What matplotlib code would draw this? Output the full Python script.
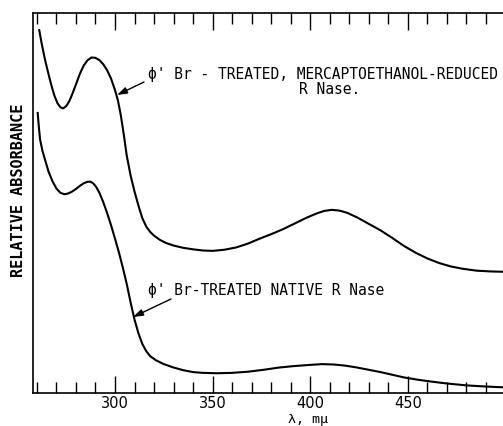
import matplotlib
matplotlib.use("Agg")
import matplotlib.pyplot as plt

# Data (wavelength in m\u03bc, relative absorbance)
reduced_wl = [261.2, 262.5, 264.2, 266.0, 267.6, 269.0, 270.5, 272.0, 273.5, 275.0,
              276.5, 278.0, 280.0, 282.0, 284.0, 286.0, 288.0, 290.0, 292.0, 294.0,
              296.0, 298.0, 300.0, 301.5, 303.0, 304.5, 306.0, 308.0, 310.0, 312.0,
              314.0, 316.0, 318.0, 320.0, 323.0, 326.0, 330.0, 335.0, 340.0, 345.0,
              350.0, 356.0, 362.0, 368.0, 374.0, 380.0, 386.0, 392.0, 398.0, 403.0,
              407.0, 411.0, 415.0, 419.0, 424.0, 430.0, 436.0, 442.0, 448.0, 454.0,
              460.0, 466.0, 472.0, 478.0, 485.0, 492.0, 498.7]
reduced_abs = [0.955, 0.918, 0.876, 0.838, 0.806, 0.782, 0.763, 0.752, 0.749, 0.755,
               0.767, 0.785, 0.812, 0.840, 0.862, 0.876, 0.883, 0.882, 0.876, 0.865,
               0.849, 0.827, 0.797, 0.770, 0.730, 0.680, 0.625, 0.572, 0.530, 0.493,
               0.460, 0.438, 0.424, 0.414, 0.403, 0.395, 0.388, 0.382, 0.378, 0.375,
               0.374, 0.377, 0.383, 0.393, 0.406, 0.418, 0.431, 0.446, 0.461, 0.472,
               0.479, 0.482, 0.480, 0.474, 0.462, 0.445, 0.428, 0.408, 0.387, 0.369,
               0.354, 0.342, 0.333, 0.327, 0.322, 0.320, 0.319]

native_wl = [260.4, 261.0, 261.6, 262.8, 264.2, 266.0, 268.0, 270.0, 272.0, 274.0,
             276.0, 278.0, 280.0, 282.0, 284.0, 286.0, 287.5, 289.0, 290.5, 292.0,
             294.0, 296.0, 298.0, 300.0, 302.0, 304.0, 306.0, 308.0, 310.0, 312.0,
             314.0, 316.0, 318.0, 321.0, 325.0, 330.0, 335.0, 340.0, 345.0, 352.0,
             360.0, 368.0, 376.0, 384.0, 392.0, 400.0, 406.0, 412.0, 418.0, 424.0,
             430.0, 436.0, 442.0, 448.0, 455.0, 462.0, 470.0, 480.0, 490.0, 498.7]
native_abs = [0.737, 0.700, 0.668, 0.638, 0.613, 0.582, 0.557, 0.538, 0.527, 0.523,
              0.525, 0.530, 0.537, 0.545, 0.552, 0.556, 0.556, 0.551, 0.541, 0.527,
              0.502, 0.473, 0.441, 0.406, 0.370, 0.330, 0.287, 0.238, 0.193, 0.157,
              0.129, 0.110, 0.097, 0.086, 0.076, 0.067, 0.060, 0.055, 0.053, 0.052,
              0.053, 0.056, 0.061, 0.067, 0.071, 0.074, 0.076, 0.075, 0.072, 0.067,
              0.061, 0.055, 0.048, 0.041, 0.035, 0.030, 0.025, 0.020, 0.017, 0.015]

xticks_major = [300, 350, 400, 450]
xlabel = "\u03bb, m\u03bc"
ylabel = "RELATIVE ABSORBANCE"
label_reduced_1 = "\u03d5' Br - TREATED, MERCAPTOETHANOL-REDUCED"
label_reduced_2 = "R Nase."
label_native = "\u03d5' Br-TREATED NATIVE R Nase"

W, H = 503, 426
fig = plt.figure(figsize=(W / 100, H / 100), dpi=100)
ax = fig.add_axes([33 / W, (H - 393) / H, (W - 33) / W, (393 - 13) / H])

ax.plot(reduced_wl, reduced_abs, color="black", lw=1.5, solid_joinstyle="round")
ax.plot(native_wl, native_abs, color="black", lw=1.5, solid_joinstyle="round")

ax.set_xlim(258, 498.7)
ax.set_ylim(0, 1)
ax.spines["right"].set_visible(False)
for s in ["left", "bottom", "top"]:
    ax.spines[s].set_linewidth(1.2)

ax.set_xticks(xticks_major)
ax.set_xticks(range(260, 500, 10), minor=True)
ax.tick_params(axis="x", which="major", direction="in", length=12, width=1.0,
               top=True, bottom=True, labelsize=10.5, pad=2)
ax.tick_params(axis="x", which="minor", direction="in", length=8, width=1.0,
               top=True, bottom=True)
ax.set_yticks([])

mono = "DejaVu Sans Mono"
px = lambda x, y: fig.transFigure.inverted().transform((x, H - y))

fig.text(*px(308, 419), xlabel, fontsize=9.5, ha="center", va="center", family=mono)
fig.text(*px(19, 190), ylabel, fontsize=11, fontweight="bold", rotation=90,
         ha="center", va="center", family=mono)

fig.text(*px(148, 74), label_reduced_1, fontsize=10.5, va="center", ha="left", family=mono)
fig.text(*px(330, 89), label_reduced_2, fontsize=10.5, va="center", ha="center", family=mono)
fig.text(*px(148, 290), label_native, fontsize=10.5, va="center", ha="left", family=mono)

arrow = dict(arrowstyle="-|>,head_length=0.6,head_width=0.2", color="black", lw=1.0,
             shrinkA=0, shrinkB=0)
ax.annotate("", xy=px(117, 95), xycoords="figure fraction",
            xytext=px(144, 82), textcoords="figure fraction", arrowprops=arrow)
ax.annotate("", xy=px(133, 317), xycoords="figure fraction",
            xytext=px(171, 299), textcoords="figure fraction", arrowprops=arrow)

fig.savefig("out.png", dpi=100)
